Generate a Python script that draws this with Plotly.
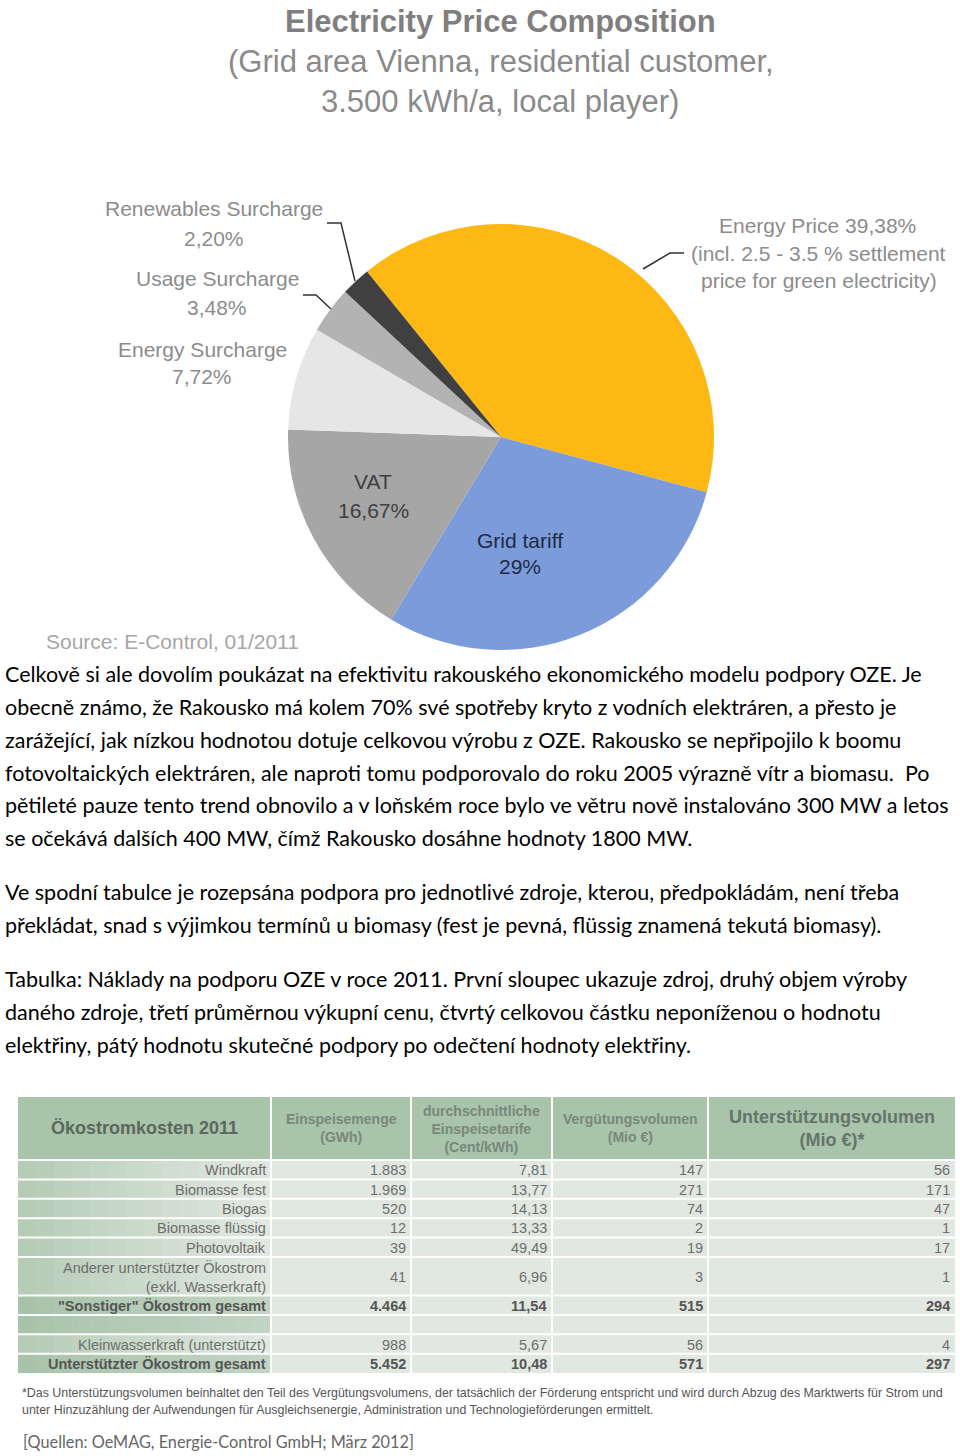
import plotly.graph_objects as go

W, H = 960, 1456


def X(x):
    return x / W


def Y(y):
    return 1 - y / H


# ---------------- data ----------------
pie_labels = ["Energy Price", "Grid tariff", "VAT", "Energy Surcharge",
              "Usage Surcharge", "Renewables Surcharge"]
pie_values = [39.38, 29.00, 16.67, 7.72, 3.48, 2.20]
pie_value_text = ["39,38%", "29%", "16,67%", "7,72%", "3,48%", "2,20%"]
pie_colors = ["#FDB813", "#7B9BDB", "#A6A6A6", "#E6E6E6", "#B3B3B3", "#404040"]
energy_note = ["(incl. 2.5 - 3.5 % settlement", "price for green electricity)"]

title_lines = ["Electricity Price Composition",
               "(Grid area Vienna, residential customer,",
               "3.500 kWh/a, local player)"]
source_text = "Source: E-Control, 01/2011"

paragraphs = [
    ["Celkově si ale dovolím poukázat na efektivitu rakouského ekonomického modelu podpory OZE. Je",
     "obecně známo, že Rakousko má kolem 70% své spotřeby kryto z vodních elektráren, a přesto je",
     "zarážející, jak nízkou hodnotou dotuje celkovou výrobu z OZE. Rakousko se nepřipojilo k boomu",
     "fotovoltaických elektráren, ale naproti tomu podporovalo do roku 2005 výrazně vítr a biomasu.  Po",
     "pětileté pauze tento trend obnovilo a v loňském roce bylo ve větru nově instalováno 300 MW a letos",
     "se očekává dalších 400 MW, čímž Rakousko dosáhne hodnoty 1800 MW."],
    ["Ve spodní tabulce je rozepsána podpora pro jednotlivé zdroje, kterou, předpokládám, není třeba",
     "překládat, snad s výjimkou termínů u biomasy (fest je pevná, flüssig znamená tekutá biomasy)."],
    ["Tabulka: Náklady na podporu OZE v roce 2011. První sloupec ukazuje zdroj, druhý objem výroby",
     "daného zdroje, třetí průměrnou výkupní cenu, čtvrtý celkovou částku neponíženou o hodnotu",
     "elektřiny, pátý hodnotu skutečné podpory po odečtení hodnoty elektřiny."],
]

table_headers = ["Ökostromkosten 2011",
                 "Einspeisemenge<br>(GWh)",
                 "durchschnittliche<br>Einspeisetarife<br>(Cent/kWh)",
                 "Vergütungsvolumen<br>(Mio €)",
                 "Unterstützungsvolumen<br>(Mio €)*"]
sources = ["Windkraft", "Biomasse fest", "Biogas", "Biomasse flüssig", "Photovoltaik",
           "Anderer unterstützter Ökostrom<br>(exkl. Wasserkraft)",
           "\"Sonstiger\" Ökostrom gesamt", "",
           "Kleinwasserkraft (unterstützt)", "Unterstützter Ökostrom gesamt"]
einspeisemenge = ["1.883", "1.969", "520", "12", "39", "41", "4.464", "", "988", "5.452"]
einspeisetarif = ["7,81", "13,77", "14,13", "13,33", "49,49", "6,96", "11,54", "", "5,67", "10,48"]
verguetung = ["147", "271", "74", "2", "19", "3", "515", "", "56", "571"]
unterstuetzung = ["56", "171", "47", "1", "17", "1", "294", "", "4", "297"]
bold_rows = [6, 9]
green_rows = [6, 7, 9]

footnote_lines = [
    "*Das Unterstützungsvolumen beinhaltet den Teil des Vergütungsvolumens, der tatsächlich der Förderung entspricht und wird durch Abzug des Marktwerts für Strom und",
    "unter Hinzuzählung der Aufwendungen für Ausgleichsenergie, Administration und Technologieförderungen ermittelt."]
quellen = "[Quellen: OeMAG, Energie-Control GmbH; März 2012]"

# ---------------- figure ----------------
SANS = "Liberation Sans, Arial, sans-serif"
TEXT = "Lato, Carlito, Calibri, sans-serif"

fig = go.Figure()
fig.add_trace(go.Pie(
    values=pie_values, labels=pie_labels, sort=False, direction="clockwise",
    rotation=-39, textinfo="none", hoverinfo="label+percent",
    marker=dict(colors=pie_colors, line=dict(width=0)),
    domain=dict(x=[X(288), X(714)], y=[Y(650), Y(224)]),
    showlegend=False))

ann = []
shapes = []


def add_text(x, y, text, size, color, family=SANS, xanchor="center", align="center"):
    ann.append(dict(x=X(x), y=Y(y), xref="paper", yref="paper", text=text,
                    showarrow=False, xanchor=xanchor, yanchor="middle", align=align,
                    font=dict(family=family, size=size, color=color)))


# title
add_text(500, 22, "<b>" + title_lines[0] + "</b>", 31, "#7f7f7f")
add_text(501, 62, title_lines[1], 31, "#8a8a8a")
add_text(500, 102, title_lines[2], 31, "#8a8a8a")

# pie outside labels
LBL = "#8c8c8c"
add_text(214, 209, pie_labels[5], 21, LBL)
add_text(214, 239, pie_value_text[5], 21, LBL)
add_text(217, 278, pie_labels[4], 21, LBL)
add_text(217, 307, pie_value_text[4], 21, LBL)
add_text(202, 349, pie_labels[3], 21, LBL)
add_text(202, 377, pie_value_text[3], 21, LBL)
add_text(817, 225, pie_labels[0] + " " + pie_value_text[0], 21, LBL)
add_text(818, 253, energy_note[0], 21, LBL)
add_text(819, 280, energy_note[1], 21, LBL)
# pie inside labels
add_text(373, 482, pie_labels[2], 21, "#3f3f3f")
add_text(373, 511, pie_value_text[2], 21, "#3f3f3f")
add_text(520, 540, pie_labels[1], 21, "#1f2b45")
add_text(520, 567, pie_value_text[1], 21, "#1f2b45")
add_text(172, 641, source_text, 21, "#a6a6a6")


def path(pts):
    s = "M " + " L ".join(f"{X(a):.5f},{Y(b):.5f}" for a, b in pts)
    return s


for pts in ([(327, 223), (341, 223), (355, 281)],
            [(303, 295), (316, 295), (331, 309)],
            [(643, 269), (670, 253), (684, 253)]):
    shapes.append(dict(type="path", xref="paper", yref="paper", path=path(pts),
                       line=dict(color="#333333", width=1.5)))

# paragraphs
para_y = [[674, 707, 740, 773, 805, 838], [892, 925], [979, 1012, 1045]]
for lines, ys in zip(paragraphs, para_y):
    for line, yy in zip(lines, ys):
        add_text(3, yy, line, 21.5, "#000000", family=TEXT, xanchor="left", align="left")

# ---------------- table ----------------
col_edges = [18, 271, 411, 552, 708, 955]
header_top, header_bottom = 1097, 1160
row_heights = [19.4, 19.4, 19.4, 19.4, 19.4, 38.5, 19.4, 19.4, 19.4, 19.4]
row_edges = [header_bottom]
for h in row_heights:
    row_edges.append(row_edges[-1] + h)
table_bottom = row_edges[-1]

HEADER_FILL = "#A8C4AA"
BODY_FILL = "#E1E7E1"

shapes.append(dict(type="rect", xref="paper", yref="paper", x0=X(18), x1=X(955),
                   y0=Y(header_top), y1=Y(header_bottom), fillcolor=HEADER_FILL,
                   line=dict(width=0), layer="below"))
shapes.append(dict(type="rect", xref="paper", yref="paper", x0=X(col_edges[1]), x1=X(955),
                   y0=Y(header_bottom), y1=Y(table_bottom), fillcolor=BODY_FILL,
                   line=dict(width=0), layer="below"))


def mix(c1, c2, t):
    a = [int(c1[i:i + 2], 16) for i in (1, 3, 5)]
    b = [int(c2[i:i + 2], 16) for i in (1, 3, 5)]
    return "#" + "".join(f"{round(a[k] + (b[k] - a[k]) * t):02X}" for k in range(3))


NSTRIP = 14
for r in range(len(row_heights)):
    if r in green_rows:
        c_left, c_right = "#A9C3AA", "#C2D4C3"
    else:
        c_left, c_right = "#B6CCB7", "#E0E8E0"
    x0 = col_edges[0]
    wcol = col_edges[1] - col_edges[0]
    for s in range(NSTRIP):
        xa = x0 + wcol * s / NSTRIP
        xb = x0 + wcol * (s + 1) / NSTRIP + 0.6
        shapes.append(dict(type="rect", xref="paper", yref="paper", x0=X(xa), x1=X(min(xb, col_edges[1])),
                           y0=Y(row_edges[r]), y1=Y(row_edges[r + 1]),
                           fillcolor=mix(c_left, c_right, s / (NSTRIP - 1)),
                           line=dict(width=0), layer="below"))

# white separators
for xe in col_edges[1:-1]:
    shapes.append(dict(type="line", xref="paper", yref="paper", x0=X(xe), x1=X(xe),
                       y0=Y(header_top), y1=Y(table_bottom), line=dict(color="white", width=2)))
for ye in row_edges[:-1]:
    shapes.append(dict(type="line", xref="paper", yref="paper", x0=X(18), x1=X(955),
                       y0=Y(ye), y1=Y(ye), line=dict(color="white", width=2)))

# header text
hdr_sizes = [18, 14, 14, 14, 18]
hdr_colors = ["#5B685D", "#78887A", "#78887A", "#78887A", "#66746A"]
hdr_y = [1128, 1128, 1129, 1128, 1128]
for c in range(5):
    xc = (col_edges[c] + col_edges[c + 1]) / 2
    add_text(xc, hdr_y[c], "<b>" + table_headers[c] + "</b>", hdr_sizes[c], hdr_colors[c])

# body text
columns = [sources, einspeisemenge, einspeisetarif, verguetung, unterstuetzung]
for c, col in enumerate(columns):
    xr = col_edges[c + 1] - 3
    for r, val in enumerate(col):
        if not val:
            continue
        yc = (row_edges[r] + row_edges[r + 1]) / 2 + 0.5
        if r in bold_rows:
            txt, color = "<b>" + val + "</b>", "#555555"
        else:
            txt, color = val, "#6E6E6E"
        add_text(xr, yc, txt, 14.5, color, xanchor="right", align="right")

# footnotes
add_text(20, 1393, footnote_lines[0], 12.4, "#555555", xanchor="left", align="left")
add_text(20, 1410, footnote_lines[1], 12.4, "#555555", xanchor="left", align="left")
add_text(21, 1441, quellen, 16.3, "#666666", family=TEXT, xanchor="left", align="left")

fig.update_layout(width=W, height=H, margin=dict(l=0, r=0, t=0, b=0),
                  paper_bgcolor="white", plot_bgcolor="white",
                  annotations=ann, shapes=shapes)
fig.write_html("out.html")
